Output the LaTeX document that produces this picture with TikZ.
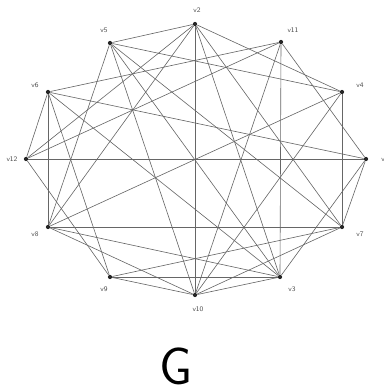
\documentclass[tikz,border=0pt]{standalone}
\usepackage{tikz}

\begin{document}
\begin{tikzpicture}[
  x=0.02cm, y=-0.02cm,
  vtx/.style={circle, fill=black!85, inner sep=0pt, minimum size=2.4pt},
  lbl/.style={font=\sffamily\fontsize{4}{4}\selectfont, text=black!70},
  edge/.style={draw=black!60, line width=0.35pt}
]
  \useasboundingbox (0,0) rectangle (384,392);

  % vertices
  \node[vtx] (v2)  at (195,24)  {};
  \node[vtx] (v11) at (281,42)  {};
  \node[vtx] (v4)  at (342,92)  {};
  \node[vtx] (v1)  at (366,159) {};
  \node[vtx] (v7)  at (342,227) {};
  \node[vtx] (v3)  at (280,277) {};
  \node[vtx] (v10) at (195,295) {};
  \node[vtx] (v9)  at (110,277) {};
  \node[vtx] (v8)  at (48,227)  {};
  \node[vtx] (v12) at (26,159)  {};
  \node[vtx] (v6)  at (48,92)   {};
  \node[vtx] (v5)  at (110,43)  {};

  % labels
  \node[lbl] (l2)  at (197,10)  {v2};
  \node[lbl] (l11) at (293,30)  {v11};
  \node[lbl] (l4)  at (360,85)  {v4};
  \node[lbl] (l1)  at (385,159) {v1};
  \node[lbl] (l7)  at (360,234) {v7};
  \node[lbl] (l3)  at (292,289) {v3};
  \node[lbl] (l10) at (198,309) {v10};
  \node[lbl] (l9)  at (104,289) {v9};
  \node[lbl] (l8)  at (35,234)  {v8};
  \node[lbl] (l12) at (12,159)  {v12};
  \node[lbl] (l6)  at (35,85)   {v6};
  \node[lbl] (l5)  at (104,30)  {v5};

  % edges
  \foreach \a/\b in {v5/v2, v5/v4, v5/v8, v5/v10, v5/v3, v5/v7,
                     v6/v11, v6/v1, v6/v8, v6/v12, v6/v9, v6/v3,
                     v11/v12, v11/v3, v11/v1, v11/v10,
                     v2/v10, v2/v4, v2/v7, v2/v12, v2/v8, v2/v3,
                     v4/v7, v4/v8, v4/v10,
                     v1/v12, v1/v7, v1/v3,
                     v8/v7, v8/v10, v8/v3,
                     v9/v3, v9/v12, v9/v10, v9/v7,
                     v10/v3, v10/v7}
    \draw[edge] (\a) -- (\b);

  \node[font=\sffamily\fontsize{30}{30}\selectfont] (g) at (176,366) {G};
\end{tikzpicture}
\end{document}
